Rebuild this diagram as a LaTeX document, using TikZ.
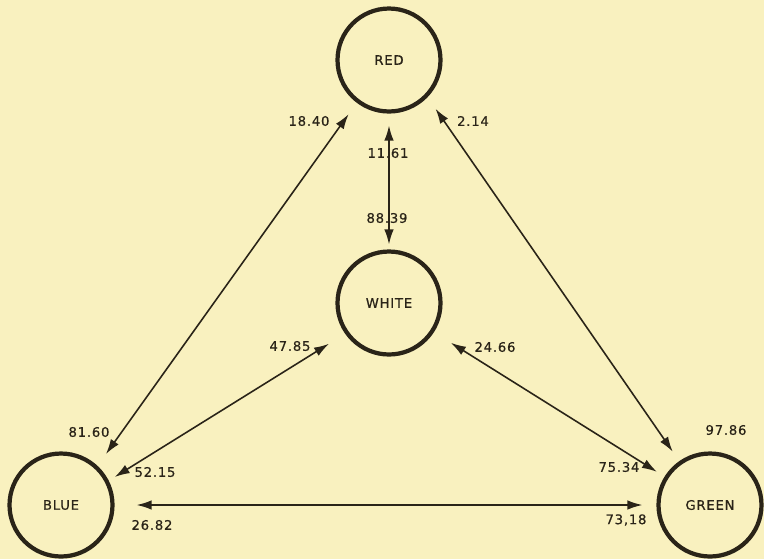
\documentclass[tikz,border=0pt]{standalone}
\usepackage{fontspec}
\usepackage{tikz}
\usetikzlibrary{arrows.meta,positioning,backgrounds}
\newfontfamily\cdFont[LetterSpace=6,FakeBold=0.6]{DejaVu Sans}
\definecolor{cdPaper}{HTML}{F9F1BF}
\definecolor{cdInk}{HTML}{2A2418}
\tikzset{
  % Colour circle
  cbox/.style={circle,draw=cdInk,line width=2.4pt,
    minimum size=2.06cm,inner sep=0pt,
    font=\cdFont\fontsize{7.5}{8}\selectfont,text=cdInk},
  % Two-way arrow
  arr/.style={{Latex[length=3mm,width=1.9mm]}-{Latex[length=3mm,width=1.9mm]},
    line width=0.9pt,color=cdInk},
  % Percentage label
  lbl/.style={font=\cdFont\fontsize{7.5}{8}\selectfont,text=cdInk,inner sep=1pt},
}
\begin{document}
\begin{tikzpicture}[x=0.02cm,y=-0.02cm]
  \fill[cdPaper] (0,0) rectangle (764,559);
  \useasboundingbox (0,0) rectangle (764,559);

  \node[cbox] (red) at (389,60) {RED};
  \node[cbox] (white) at (389,303) {WHITE};
  \node[cbox] (blue) at (61,505) {BLUE};
  \node[cbox] (green) at (710,505) {GREEN};

  \draw[arr,shorten <=0.24cm,shorten >=0.1cm] (red.south) -- (white.north);
  \draw[arr,shorten <=0.29cm,shorten >=0.28cm] (blue.47) -- (red.-127);
  \draw[arr,shorten <=0.28cm,shorten >=0.23cm] (red.-44) -- (green.125);
  \draw[arr,shorten <=0.14cm,shorten >=0.38cm] (blue.27) -- (white.-145);
  \draw[arr,shorten <=0.4cm,shorten >=0.18cm] (white.-33) -- (green.148);
  \draw[arr,shorten <=0.44cm,shorten >=0.28cm] (blue.east) -- (green.west);

  \node[lbl] (p1840) at (309,121) {18.40};
  \node[lbl] (p0214) at (473,121) {2.14};
  \node[lbl] (p1161) at (388,153) {11.61};
  \node[lbl] (p8839) at (387,218) {88.39};
  \node[lbl] (p4785) at (290,346) {47.85};
  \node[lbl] (p2466) at (495,347) {24.66};
  \node[lbl] (p8160) at (89,432) {81.60};
  \node[lbl] (p5215) at (155,472) {52.15};
  \node[lbl] (p2682) at (152,525) {26.82};
  \node[lbl] (p9786) at (726,430) {97.86};
  \node[lbl] (p7534) at (619,467) {75.34};
  \node[lbl] (p7318) at (626,520) {73,18};
\end{tikzpicture}
\end{document}
